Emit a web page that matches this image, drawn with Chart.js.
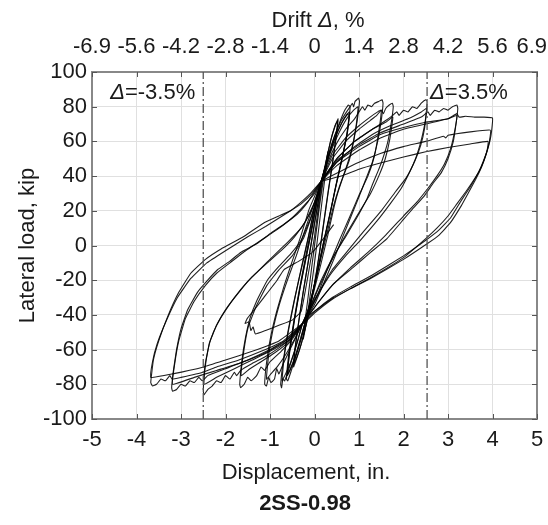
<!DOCTYPE html>
<html>
<head>
<meta charset="utf-8">
<script src="https://cdn.jsdelivr.net/npm/chart.js@4.4.1/dist/chart.umd.min.js"></script>
<style>
  html, body { margin: 0; padding: 0; background: #fff; }
  canvas { display: block; }
</style>
</head>
<body>
<canvas id="hysteresis" width="548" height="525"></canvas>
<script>
// ---- axis ticks ----
const dispTicks = [-5, -4, -3, -2, -1, 0, 1, 2, 3, 4, 5];
const driftLabels = ["-6.9", "-5.6", "-4.2", "-2.8", "-1.4", "0", "1.4", "2.8", "4.2", "5.6", "6.9"];

// drift limit lines (in.) and their labels
const driftMarkX = [-2.5, 2.53];
const driftMarkText = ["=-3.5%", "=3.5%"];

// ---- hysteresis cycles [displacement in., lateral load kip] ----
const cyc1 = [[0,0],[0.06,12],[0.12,24],[0.2,38],[0.26,48],[0.3,54],[0.27,46],[0.2,32],[0.12,15],[0.04,-2],[-0.04,-18],[-0.12,-33],[-0.19,-45],[-0.25,-54],[-0.22,-45],[-0.15,-31],[-0.07,-14],[0.02,4],[0.1,22],[0.17,36]];
const cyc2 = [[0.17,36],[0.26,48],[0.36,60],[0.46,69],[0.52,72],[0.48,62],[0.4,47],[0.3,30],[0.2,12],[0.1,-6],[0,-22],[-0.1,-36],[-0.2,-47],[-0.3,-57],[-0.4,-65],[-0.47,-70],[-0.44,-60],[-0.36,-45],[-0.26,-28],[-0.14,-9],[-0.02,10],[0.08,25],[0.16,37]];
const cyc2b = [[0.16,37],[0.27,50],[0.38,62],[0.48,70],[0.53,73],[0.49,63],[0.41,48],[0.31,31],[0.21,13],[0.11,-5],[0.01,-21],[-0.09,-35],[-0.19,-46],[-0.29,-56],[-0.39,-64],[-0.46,-68],[-0.43,-58],[-0.35,-43],[-0.25,-26],[-0.13,-8],[-0.01,11],[0.09,26],[0.16,37]];
const cyc3a = [[0.16,37],[0.3,51],[0.45,63],[0.58,72],[0.68,78],[0.76,81],[0.8,80],[0.75,68],[0.64,53],[0.5,37],[0.36,20],[0.22,4],[0.08,-13],[-0.06,-29],[-0.18,-42],[-0.3,-54],[-0.42,-64],[-0.52,-72],[-0.6,-78],[-0.63,-77],[-0.58,-63],[-0.48,-46],[-0.36,-28],[-0.22,-9],[-0.08,9],[0.04,24],[0.15,37]];
const cyc3b = [[0.15,37],[0.32,52],[0.48,63],[0.62,71],[0.74,76],[0.79,77],[0.74,65],[0.62,50],[0.48,34],[0.34,17],[0.2,1],[0.06,-16],[-0.08,-31],[-0.2,-43],[-0.32,-55],[-0.44,-65],[-0.55,-72],[-0.61,-75],[-0.56,-61],[-0.46,-44],[-0.33,-25],[-0.19,-7],[-0.05,11],[0.06,26],[0.15,37]];
const cyc3c = [[0.15,37],[0.3,50],[0.46,62],[0.6,70],[0.72,75],[0.78,76],[0.73,64],[0.61,49],[0.47,33],[0.33,16],[0.19,0],[0.05,-17],[-0.09,-32],[-0.21,-44],[-0.33,-55],[-0.45,-65],[-0.56,-72],[-0.61,-74],[-0.55,-60],[-0.45,-43],[-0.32,-24],[-0.18,-6],[-0.04,12],[0.07,27],[0.15,37]];
const cyc4a = [[0.15,37],[0.3,51],[0.45,63],[0.6,72],[0.72,77],[0.8,80],[0.85,82],[0.88,80],[0.91,83],[0.95,84],[0.99,85],[1.01,83],[0.96,72],[0.88,60],[0.78,49],[0.65,40],[0.52,30],[0.42,20],[0.3,6],[0.15,-10],[0,-25],[-0.14,-37],[-0.27,-45],[-0.38,-55],[-0.5,-65],[-0.6,-73],[-0.67,-78],[-0.71,-77],[-0.74,-82],[-0.76,-80],[-0.7,-66],[-0.6,-50],[-0.46,-32],[-0.31,-15],[-0.16,2],[-0.02,19],[0.08,30],[0.15,37]];
const cyc4b = [[0.15,37],[0.35,53],[0.55,65],[0.72,73],[0.88,78],[0.98,80],[0.93,68],[0.83,55],[0.7,44],[0.56,34],[0.42,22],[0.28,7],[0.12,-10],[-0.02,-26],[-0.15,-38],[-0.27,-45],[-0.4,-57],[-0.53,-67],[-0.65,-74],[-0.73,-78],[-0.68,-64],[-0.57,-47],[-0.43,-29],[-0.28,-11],[-0.13,6],[0,22],[0.1,32],[0.15,37]];
const cyc5a = [[0.15,37],[0.3,48],[0.5,59],[0.7,67],[0.9,73],[1.0,77],[1.08,80],[1.13,78],[1.2,81],[1.28,80],[1.35,82],[1.44,83],[1.52,84],[1.54,82],[1.5,72],[1.42,60],[1.3,48],[1.15,38],[1.0,28],[0.84,18],[0.65,6],[0.45,-7],[0.22,-21],[0.02,-33],[-0.14,-40],[-0.27,-45],[-0.42,-53],[-0.57,-61],[-0.7,-68],[-0.8,-74],[-0.85,-71],[-0.9,-77],[-0.98,-79],[-1.03,-76],[-1.08,-81],[-1.12,-80],[-1.07,-66],[-0.98,-52],[-0.85,-38],[-0.68,-23],[-0.5,-9],[-0.3,6],[-0.12,21],[0.03,30],[0.15,37]];
const cyc5b = [[0.15,37],[0.4,52],[0.7,62],[1.0,69],[1.25,74],[1.42,77],[1.5,78],[1.44,65],[1.34,51],[1.2,40],[1.0,29],[0.8,17],[0.56,3],[0.3,-13],[0.06,-29],[-0.13,-39],[-0.27,-45],[-0.45,-54],[-0.65,-63],[-0.84,-70],[-0.98,-74],[-1.08,-77],[-1.03,-63],[-0.93,-48],[-0.79,-34],[-0.61,-20],[-0.41,-6],[-0.2,10],[0,25],[0.15,37]];
const oddBranch = [[0.43,12],[0.2,4],[-0.05,-4],[-0.35,-9],[-0.69,-14],[-0.84,-20],[-1.14,-30],[-1.35,-37],[-1.51,-42],[-1.56,-45],[-1.47,-44],[-1.43,-49],[-1.38,-47],[-1.33,-51],[-1.1,-49],[-0.8,-46],[-0.5,-43],[-0.3,-38],[-0.15,-18],[0,5],[0.1,25],[0.15,37]];
const cyc6a = [[0.15,37],[0.4,50],[0.7,60],[1.0,67],[1.25,72],[1.4,75],[1.5,78],[1.55,76],[1.6,79],[1.68,81],[1.75,82],[1.77,80],[1.72,70],[1.64,59],[1.52,49],[1.43,43],[1.3,35],[1.18,27],[0.95,16],[0.7,5],[0.43,-6],[0.15,-20],[-0.06,-33],[-0.27,-45],[-0.5,-54],[-0.75,-61],[-1.0,-67],[-1.12,-72],[-1.2,-70],[-1.3,-75],[-1.42,-78],[-1.5,-76],[-1.58,-80],[-1.66,-82],[-1.68,-80],[-1.63,-66],[-1.55,-53],[-1.45,-42],[-1.3,-32],[-1.06,-20],[-0.8,-12],[-0.54,-5],[-0.3,3],[-0.1,15],[0.05,27],[0.15,37]];
const cyc6b = [[0.15,37],[0.5,50],[0.9,60],[1.3,67],[1.6,71],[1.76,74],[1.69,61],[1.59,50],[1.46,41],[1.26,30],[1.0,19],[0.7,6],[0.4,-8],[0.1,-24],[-0.1,-36],[-0.27,-45],[-0.6,-56],[-0.9,-62],[-1.2,-67],[-1.45,-71],[-1.65,-75],[-1.59,-61],[-1.49,-47],[-1.31,-35],[-1.07,-23],[-0.8,-14],[-0.5,-6],[-0.25,4],[-0.05,18],[0.08,30],[0.15,37]];
const cyc7a = [[0.15,37],[0.5,50],[0.9,60],[1.3,67],[1.6,72],[1.76,75],[1.85,77],[1.9,75],[2.0,78],[2.1,77],[2.2,80],[2.3,79],[2.4,82],[2.5,84],[2.53,83],[2.49,72],[2.43,64],[2.37,58],[2.27,50],[2.15,43],[1.95,33],[1.7,24],[1.4,14],[1.03,3],[0.7,-6],[0.35,-17],[0.02,-31],[-0.27,-45],[-0.5,-53],[-0.8,-59],[-1.1,-64],[-1.4,-68],[-1.66,-72],[-1.75,-75],[-1.8,-73],[-1.9,-77],[-2.0,-75],[-2.1,-79],[-2.2,-78],[-2.3,-81],[-2.4,-83],[-2.48,-86],[-2.5,-84],[-2.47,-71],[-2.4,-61],[-2.33,-54],[-2.2,-46],[-2.04,-39],[-1.8,-30],[-1.51,-21],[-1.2,-13],[-0.92,-6],[-0.6,2],[-0.3,10],[-0.09,19],[0.05,28],[0.15,37]];
const cyc7b = [[0.15,37],[0.5,48],[0.9,57],[1.3,64],[1.7,69],[2.1,73],[2.4,77],[2.52,79],[2.47,67],[2.39,58],[2.26,49],[2.06,39],[1.82,31],[1.5,20],[1.1,8],[0.75,-3],[0.4,-14],[0.05,-29],[-0.27,-45],[-0.6,-55],[-1.0,-61],[-1.4,-66],[-1.8,-71],[-2.2,-76],[-2.48,-80],[-2.44,-67],[-2.36,-56],[-2.2,-46],[-2.0,-37],[-1.7,-27],[-1.4,-18],[-1.06,-10],[-0.75,-3],[-0.45,5],[-0.2,14],[0,25],[0.15,37]];
const cyc8a = [[0.15,37],[0.5,49],[1.0,58],[1.48,65],[2.0,70],[2.4,74],[2.55,77],[2.6,75],[2.7,78],[2.8,77],[2.9,79],[3.0,78],[3.1,80],[3.2,81],[3.22,79],[3.18,70],[3.12,60],[3.0,50],[2.85,42],[2.67,36],[2.45,28],[2.2,21],[2.0,15],[1.63,4],[1.26,-4],[0.85,-13],[0.43,-22],[0.08,-33],[-0.27,-45],[-0.6,-54],[-1.0,-60],[-1.5,-66],[-2.0,-71],[-2.4,-75],[-2.52,-78],[-2.6,-76],[-2.7,-79],[-2.8,-78],[-2.9,-81],[-3.0,-80],[-3.1,-83],[-3.19,-84],[-3.21,-82],[-3.17,-72],[-3.1,-60],[-3.0,-48],[-2.85,-37],[-2.63,-27],[-2.4,-20],[-2.18,-14],[-1.9,-9],[-1.66,-4],[-1.3,1],[-0.99,7],[-0.7,12],[-0.39,18],[-0.15,25],[0,31],[0.15,37]];
const cyc8b = [[0.15,37],[0.5,46],[1.0,55],[1.48,62],[2.0,67],[2.5,70],[3.0,73],[3.2,75],[3.15,66],[3.06,56],[2.92,47],[2.75,40],[2.55,33],[2.3,25],[2.0,17],[1.6,6],[1.2,-4],[0.8,-13],[0.4,-23],[0.05,-34],[-0.27,-45],[-0.7,-56],[-1.2,-63],[-1.7,-68],[-2.2,-72],[-2.7,-76],[-3.19,-80],[-3.14,-68],[-3.05,-55],[-2.9,-42],[-2.7,-32],[-2.45,-23],[-2.2,-16],[-1.9,-10],[-1.6,-4],[-1.2,3],[-0.85,9],[-0.5,16],[-0.2,24],[0,30],[0.15,37]];
const cyc9a = [[0.15,37],[0.5,48],[1.0,57],[1.48,64],[2.0,68],[2.5,71],[3.0,73],[3.2,76],[3.25,74],[3.4,74.5],[3.6,74],[3.8,74],[4.0,73.5],[3.98,66],[3.94,60],[3.85,52],[3.75,45],[3.62,38],[3.45,30],[3.3,23],[3.05,13],[2.8,6],[2.53,1],[2.0,-8],[1.26,-19],[0.8,-25],[0.43,-30],[0.1,-36],[-0.16,-41],[-0.27,-45],[-0.7,-55],[-1.2,-61],[-1.7,-66],[-2.2,-70],[-2.5,-73],[-3.0,-76],[-3.2,-77],[-3.25,-75],[-3.35,-78],[-3.45,-77],[-3.55,-80],[-3.64,-81],[-3.68,-79],[-3.62,-66],[-3.5,-55],[-3.3,-41],[-3.05,-27],[-2.78,-16],[-2.45,-8],[-2.1,-2],[-1.6,5],[-1.14,13],[-0.8,17],[-0.54,20],[-0.3,25],[-0.09,30],[0.15,37]];
const cyc9b = [[0.15,37],[0.6,43],[1.0,48],[1.48,53],[2.0,57],[2.5,60],[2.9,63],[2.95,62],[3.0,63.5],[3.5,65.5],[3.95,66.5],[3.93,60],[3.86,53],[3.76,46],[3.64,40],[3.48,33],[3.3,26],[3.06,16],[2.8,9],[2.5,3],[2.0,-6],[1.3,-17],[0.8,-24],[0.4,-30],[0.05,-37],[-0.27,-45],[-0.8,-55],[-1.4,-61],[-2.0,-66],[-2.49,-70],[-3.19,-74],[-3.68,-76],[-3.64,-67],[-3.54,-57],[-3.34,-44],[-3.08,-30],[-2.78,-19],[-2.42,-10],[-2.0,-3],[-1.5,5],[-1.1,11],[-0.6,19],[-0.3,24],[-0.05,30],[0.15,37]];
const cyc9c = [[0.15,37],[0.6,40],[1.0,44],[1.48,47.5],[2.0,51],[2.5,54],[3.0,56.5],[3.5,58.5],[3.9,60],[3.88,55],[3.8,49],[3.7,43],[3.56,37],[3.4,31],[3.2,24],[3.0,17],[2.75,10],[2.5,4],[2.0,-7],[1.3,-18],[0.8,-25],[0.4,-31],[0.0,-39],[-0.2,-44]];

const cycles = [cyc1, cyc2, cyc2b, cyc3a, cyc3b, cyc3c, cyc4a, cyc4b, cyc5a, cyc5b, oddBranch,
                cyc6a, cyc6b, cyc7a, cyc7b, cyc8a, cyc8b, cyc9a, cyc9b, cyc9c];

const FONT = "'Liberation Sans', Arial, Helvetica, sans-serif";
const FS = 22;
Chart.defaults.font.family = FONT;
Chart.defaults.font.size = FS;
Chart.defaults.color = "#1a1a1a";

const loopSets = cycles.map(pts => ({
    data: pts.map(([x, y]) => ({ x, y })),
    showLine: true,
    borderColor: "rgba(0,0,0,0.88)",
    borderWidth: 1.1,
    pointRadius: 0,
    tension: 0.1,
    fill: false,
}));

const markSets = driftMarkX.map(x => ({
    data: [{ x, y: -100 }, { x, y: 100 }],
    showLine: true,
    borderColor: "#555",
    borderWidth: 1.3,
    borderDash: [9, 3, 2, 3],
    pointRadius: 0,
}));

// inward ticks, top drift labels, titles and limit labels
const decor = {
    id: "decor",
    afterDraw(chart) {
        const { ctx, chartArea: a, scales } = chart;
        ctx.save();
        ctx.strokeStyle = "#555";
        ctx.lineWidth = 1;
        ctx.beginPath();
        for (const v of dispTicks) {
            const px = Math.round(scales.x.getPixelForValue(v)) + 0.5;
            ctx.moveTo(px, a.bottom); ctx.lineTo(px, a.bottom - 5);
            ctx.moveTo(px, a.top); ctx.lineTo(px, a.top + 5);
        }
        for (const t of scales.y.ticks) {
            const py = Math.round(scales.y.getPixelForValue(t.value)) + 0.5;
            ctx.moveTo(a.left, py); ctx.lineTo(a.left + 5, py);
            ctx.moveTo(a.right, py); ctx.lineTo(a.right - 5, py);
        }
        ctx.stroke();

        const normal = FS + "px " + FONT;
        const italic = "italic " + FS + "px " + FONT;
        ctx.fillStyle = "#1a1a1a";
        ctx.textBaseline = "middle";

        // top drift tick labels (kept inside the canvas)
        ctx.font = normal;
        ctx.textAlign = "center";
        dispTicks.forEach((v, i) => {
            const w = ctx.measureText(driftLabels[i]).width;
            const px = Math.min(scales.x2.getPixelForValue(v), chart.width - w / 2 - 1);
            ctx.fillText(driftLabels[i], px, 47);
        });

        // bottom axis title and specimen name
        ctx.fillText("Displacement, in.", 306, 473);
        ctx.font = "bold " + FS + "px " + FONT;
        ctx.fillText("2SS-0.98", 305, 504);

        ctx.textAlign = "left";
        // top title "Drift Δ, %"
        ctx.font = normal;
        const w1 = ctx.measureText("Drift ").width;
        const w3 = ctx.measureText(", %").width;
        ctx.font = italic;
        const w2 = ctx.measureText("Δ").width;
        const x0 = 318 - (w1 + w2 + w3) / 2;
        const ty = 21;
        ctx.font = normal; ctx.fillText("Drift ", x0, ty);
        ctx.font = italic; ctx.fillText("Δ", x0 + w1, ty);
        ctx.font = normal; ctx.fillText(", %", x0 + w1 + w2, ty);

        // limit labels
        const ly = scales.y.getPixelForValue(88);
        driftMarkX.forEach((xv, i) => {
            const px = scales.x.getPixelForValue(xv);
            ctx.font = italic;
            const wd = ctx.measureText("Δ").width;
            ctx.font = normal;
            const wt = ctx.measureText(driftMarkText[i]).width;
            const sx = xv < 0 ? px - 8 - wd - wt : px + 3;
            ctx.font = italic; ctx.fillText("Δ", sx, ly);
            ctx.font = normal; ctx.fillText(driftMarkText[i], sx + wd, ly);
        });
        ctx.restore();
    },
};

const noSidePad = s => { s.paddingLeft = 0; s.paddingRight = 0; };

new Chart(document.getElementById("hysteresis"), {
    type: "scatter",
    data: { datasets: [...markSets, ...loopSets] },
    plugins: [decor],
    options: {
        responsive: false,
        animation: false,
        layout: { padding: { left: 0, right: 11, top: 0, bottom: 0 } },
        plugins: {
            legend: { display: false },
            tooltip: { enabled: false },
            title: { display: false },
        },
        scales: {
            x: {
                type: "linear", position: "bottom", min: -5, max: 5,
                afterBuildTicks: s => { s.ticks = dispTicks.map(v => ({ value: v })); },
                ticks: { padding: 8, callback: v => String(v) },
                grid: { color: "#e0e0e0", drawTicks: false },
                border: { color: "#888", width: 2 },
                afterFit: s => { s.height = 106; noSidePad(s); },
            },
            x2: {
                type: "linear", position: "top", min: -5, max: 5,
                afterBuildTicks: s => { s.ticks = dispTicks.map(v => ({ value: v })); },
                ticks: { display: false },
                grid: { drawOnChartArea: false, drawTicks: false },
                border: { color: "#888", width: 2 },
                afterFit: s => { s.height = 72; noSidePad(s); },
            },
            y: {
                type: "linear", position: "left", min: -100, max: 100,
                ticks: { stepSize: 20, padding: 5 },
                grid: { color: "#e0e0e0", drawTicks: false },
                border: { color: "#888", width: 2 },
                title: { display: true, text: "Lateral load, kip", padding: { top: 15, bottom: 0 } },
                afterFit: s => { s.width = 92; },
            },
            y2: {
                type: "linear", position: "right", min: -100, max: 100,
                ticks: { display: false },
                grid: { drawOnChartArea: false, drawTicks: false },
                border: { color: "#888", width: 2 },
                afterFit: s => { s.width = 0; },
            },
        },
    },
});
</script>
</body>
</html>
